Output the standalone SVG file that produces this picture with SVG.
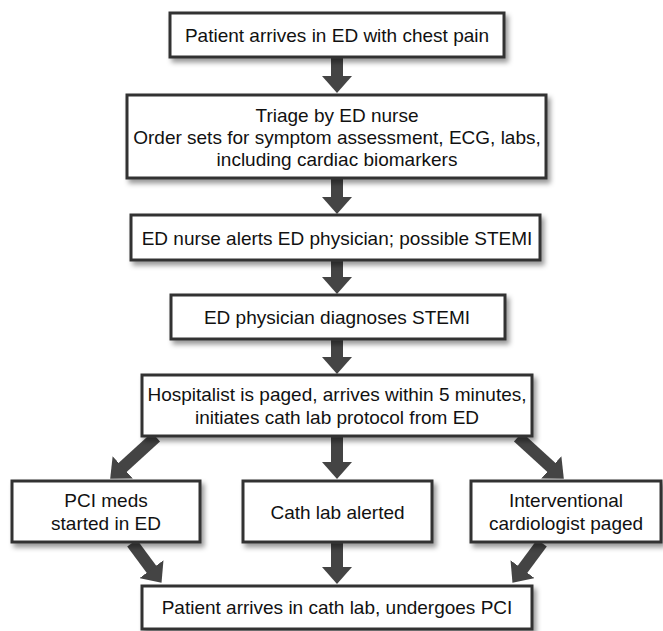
<svg xmlns="http://www.w3.org/2000/svg" width="663" height="631" viewBox="0 0 663 631">
  <defs>
    <filter id="sh" x="-10%" y="-20%" width="125%" height="160%">
      <feDropShadow dx="3" dy="4" stdDeviation="2.5" flood-color="#000" flood-opacity="0.4"/>
    </filter>
    <marker id="ah" markerUnits="userSpaceOnUse" markerWidth="17" markerHeight="30" viewBox="0 0 17 30" refX="1" refY="15" orient="auto">
      <path d="M0,0 L17,15 L0,30 z" fill="#444"/>
    </marker>
    <style>
      .box rect { fill: #fff; stroke: #333; stroke-width: 3; filter: url(#sh); }
      .box text { font-family: "Liberation Sans", Arial, sans-serif; font-size: 19px; fill: #111; text-anchor: middle; }
      .conn line { stroke: #444; stroke-width: 12; marker-end: url(#ah); }
    </style>
  </defs>
  <rect width="663" height="631" fill="#fff"/>

  <g id="connectors" class="conn">
    <line x1="337" y1="58" x2="337" y2="77"/>
    <line x1="337" y1="179" x2="337" y2="198"/>
    <line x1="337" y1="261" x2="337" y2="278"/>
    <line x1="337" y1="340" x2="337" y2="358"/>
    <line x1="337" y1="437" x2="337" y2="463"/>
    <line x1="156" y1="437" x2="122" y2="468"/>
    <line x1="518" y1="437" x2="552" y2="468"/>
    <line x1="337" y1="543" x2="337" y2="568"/>
    <line x1="132" y1="543" x2="152" y2="570"/>
    <line x1="542" y1="543" x2="522" y2="570"/>
  </g>

  <g id="n1" class="box">
    <rect x="170" y="13" width="334" height="44"/>
    <text x="337" y="42">Patient arrives in ED with chest pain</text>
  </g>
  <g id="n2" class="box">
    <rect x="127" y="95" width="419" height="83"/>
    <text x="337" y="121.5">Triage by ED nurse</text>
    <text x="337" y="143.5">Order sets for symptom assessment, ECG, labs,</text>
    <text x="337" y="165.5">including cardiac biomarkers</text>
  </g>
  <g id="n3" class="box">
    <rect x="131" y="215" width="409" height="45"/>
    <text x="337" y="244.5">ED nurse alerts ED physician; possible STEMI</text>
  </g>
  <g id="n4" class="box">
    <rect x="171" y="295" width="334" height="44"/>
    <text x="337" y="324">ED physician diagnoses STEMI</text>
  </g>
  <g id="n5" class="box">
    <rect x="142" y="375" width="390" height="61"/>
    <text x="337" y="401">Hospitalist is paged, arrives within 5 minutes,</text>
    <text x="337" y="424">initiates cath lab protocol from ED</text>
  </g>
  <g id="n6" class="box">
    <rect x="12" y="481" width="188" height="61"/>
    <text x="106" y="507">PCI meds</text>
    <text x="106" y="530">started in ED</text>
  </g>
  <g id="n7" class="box">
    <rect x="243" y="481" width="189" height="61"/>
    <text x="337.5" y="518.5">Cath lab alerted</text>
  </g>
  <g id="n8" class="box">
    <rect x="471" y="481" width="190" height="61"/>
    <text x="566" y="507">Interventional</text>
    <text x="566" y="530">cardiologist paged</text>
  </g>
  <g id="n9" class="box">
    <rect x="142" y="586" width="390" height="43"/>
    <text x="337" y="614">Patient arrives in cath lab, undergoes PCI</text>
  </g>
</svg>
